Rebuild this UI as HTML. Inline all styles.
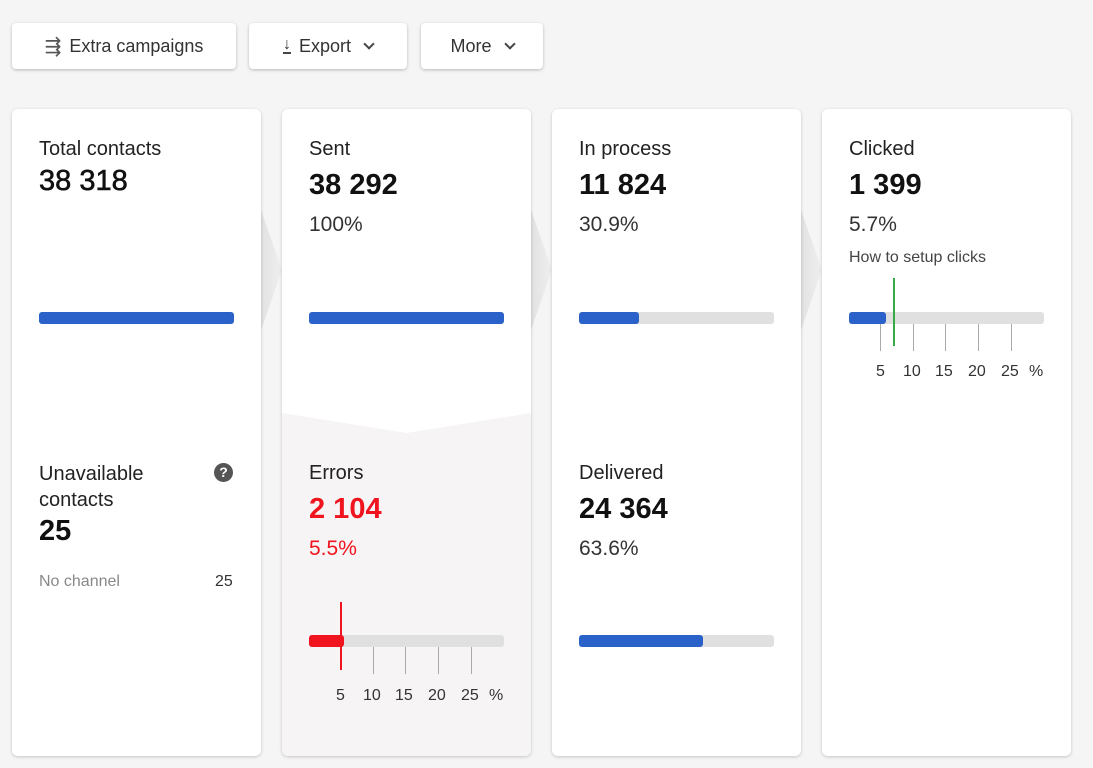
<!DOCTYPE html>
<html><head><meta charset="utf-8"><style>
*{box-sizing:border-box;margin:0;padding:0}
body{width:1093px;height:768px;background:#f5f5f5;font-family:"Liberation Sans",Arial,sans-serif;color:#212121;position:relative;overflow:hidden}
.btn{position:absolute;top:23px;height:46px;background:#fff;border-radius:4px;box-shadow:0 1px 3px rgba(0,0,0,.25);font-size:18px;color:#333;display:flex;align-items:center;justify-content:center;gap:8px}
.card{position:absolute;top:109px;width:249px;height:647px;background:#fff;border-radius:6px;box-shadow:0 1px 3px rgba(0,0,0,.2);overflow:hidden}
.a{position:absolute}
.lbl{font-size:20px;color:#222}
.num{font-size:29px;font-weight:bold;color:#111}
.pct{font-size:21px;color:#333}
.bar{position:absolute;height:12px;background:#e0e0e0;border-radius:3px;width:195px}
.fill{position:absolute;left:0;top:0;height:12px;background:#2a62c9;border-radius:3px}
.tick{position:absolute;width:1px;background:#aaa}
.tl{position:absolute;font-size:16px;color:#333}
.arrow{position:absolute;width:21px;height:120px;top:210px;background:linear-gradient(90deg,#e2e2e2,#efefef);clip-path:polygon(0 0,100% 50%,0 100%)}
.chev{display:inline-block;width:8px;height:8px;border-right:2.5px solid #444;border-bottom:2.5px solid #444;transform:rotate(45deg);margin-top:-5px;margin-left:6px}
</style></head><body>
<div class="btn" style="left:12px;width:224px"><span style="font-size:20px;color:#555">⇶</span>Extra campaigns</div>
<div class="btn" style="left:249px;width:158px"><span style="font-size:16px;border-bottom:2px solid #444;line-height:14px">↓</span>Export <span class="chev"></span></div>
<div class="btn" style="left:421px;width:122px">More <span class="chev"></span></div>

<div class="arrow" style="left:261px"></div>
<div class="arrow" style="left:531px"></div>
<div class="arrow" style="left:801px"></div>

<div class="card" style="left:12px">
 <div class="a lbl" style="left:27px;top:29px">Total contacts</div>
 <div class="a num" style="left:27px;top:56px;font-weight:normal;-webkit-text-stroke:0.6px #111">38 318</div>
 <div class="bar" style="left:27px;top:203px"><div class="fill" style="width:195px"></div></div>
 <div class="a lbl" style="left:27px;top:352px;line-height:26px">Unavailable<br>contacts</div>
 <div class="a" style="left:202px;top:354px;width:19px;height:19px;border-radius:50%;background:#555;color:#fff;font-size:14px;font-weight:bold;text-align:center;line-height:19px">?</div>
 <div class="a num" style="left:27px;top:406px">25</div>
 <div class="a" style="left:27px;top:464px;font-size:16px;color:#888">No channel</div>
 <div class="a" style="left:203px;top:464px;font-size:16px;color:#333">25</div>
</div>

<div class="card" style="left:282px">
 <div class="a lbl" style="left:27px;top:29px">Sent</div>
 <div class="a num" style="left:27px;top:60px">38 292</div>
 <div class="a pct" style="left:27px;top:104px">100%</div>
 <div class="bar" style="left:27px;top:203px"><div class="fill" style="width:195px"></div></div>
 <div class="a" style="left:0;top:304px;width:249px;height:360px;background:#f6f4f5;clip-path:polygon(0 0,50% 20px,100% 0,100% 100%,0 100%)"></div>
 <div class="a lbl" style="left:27px;top:353px">Errors</div>
 <div class="a num" style="left:27px;top:384px;color:#f0141e">2 104</div>
 <div class="a pct" style="left:27px;top:428px;color:#f0141e">5.5%</div>
 <div class="bar" style="left:27px;top:526px"><div class="fill" style="width:35px;background:#f0141e"></div></div>
 <div class="tick" style="left:91px;top:538px;height:27px"></div>
 <div class="tick" style="left:123px;top:538px;height:27px"></div>
 <div class="tick" style="left:156px;top:538px;height:27px"></div>
 <div class="tick" style="left:189px;top:538px;height:27px"></div>
 <div class="a" style="left:58px;top:493px;width:2px;height:68px;background:#f0141e"></div>
 <div class="tl" style="left:54px;top:578px">5</div>
 <div class="tl" style="left:81px;top:578px">10</div>
 <div class="tl" style="left:113px;top:578px">15</div>
 <div class="tl" style="left:146px;top:578px">20</div>
 <div class="tl" style="left:179px;top:578px">25</div>
 <div class="tl" style="left:207px;top:578px">%</div>
</div>

<div class="card" style="left:552px">
 <div class="a lbl" style="left:27px;top:29px">In process</div>
 <div class="a num" style="left:27px;top:60px">11 824</div>
 <div class="a pct" style="left:27px;top:104px">30.9%</div>
 <div class="bar" style="left:27px;top:203px"><div class="fill" style="width:60px"></div></div>
 <div class="a lbl" style="left:27px;top:353px">Delivered</div>
 <div class="a num" style="left:27px;top:384px">24 364</div>
 <div class="a pct" style="left:27px;top:428px">63.6%</div>
 <div class="bar" style="left:27px;top:526px"><div class="fill" style="width:124px"></div></div>
</div>

<div class="card" style="left:822px">
 <div class="a lbl" style="left:27px;top:29px">Clicked</div>
 <div class="a num" style="left:27px;top:60px">1 399</div>
 <div class="a pct" style="left:27px;top:104px">5.7%</div>
 <div class="a" style="left:27px;top:140px;font-size:16px;color:#444">How to setup clicks</div>
 <div class="bar" style="left:27px;top:203px"><div class="fill" style="width:37px"></div></div>
 <div class="tick" style="left:58px;top:215px;height:27px"></div>
 <div class="tick" style="left:91px;top:215px;height:27px"></div>
 <div class="tick" style="left:123px;top:215px;height:27px"></div>
 <div class="tick" style="left:156px;top:215px;height:27px"></div>
 <div class="tick" style="left:189px;top:215px;height:27px"></div>
 <div class="a" style="left:71px;top:169px;width:2px;height:68px;background:#3aa845"></div>
 <div class="tl" style="left:54px;top:254px">5</div>
 <div class="tl" style="left:81px;top:254px">10</div>
 <div class="tl" style="left:113px;top:254px">15</div>
 <div class="tl" style="left:146px;top:254px">20</div>
 <div class="tl" style="left:179px;top:254px">25</div>
 <div class="tl" style="left:207px;top:254px">%</div>
</div>
</body></html>
